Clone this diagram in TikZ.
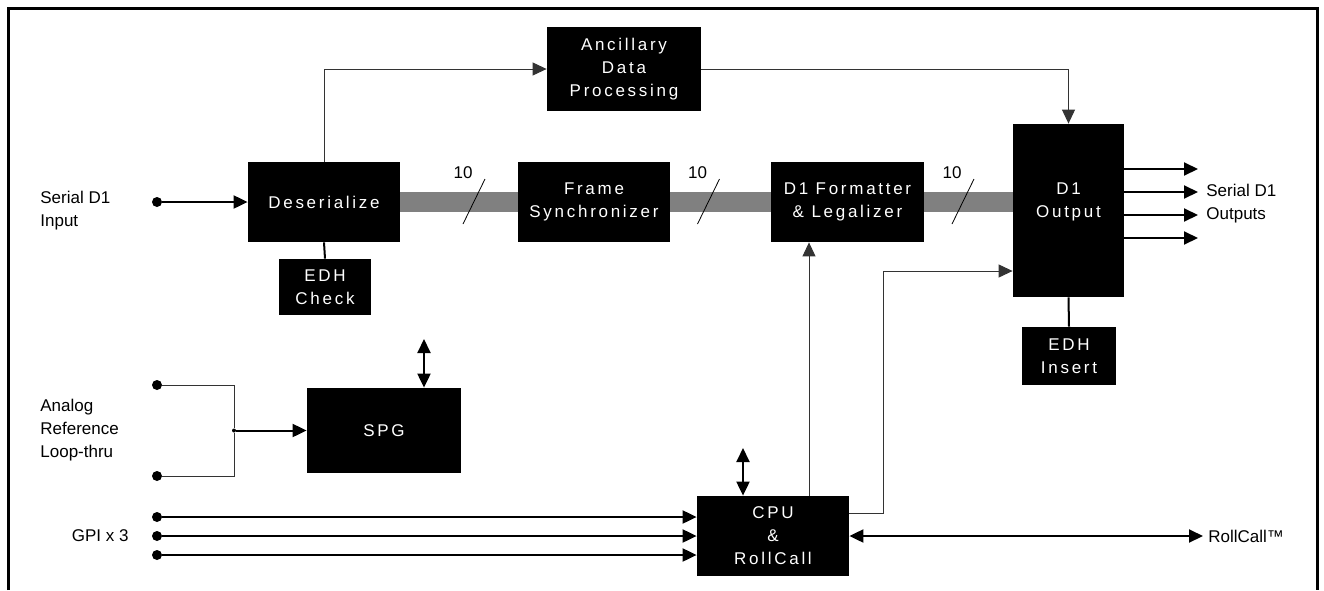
\documentclass[tikz,border=0pt]{standalone}
\usepackage{fontspec}
\setmainfont{Liberation Sans}
\newfontfamily\boxfont[LetterSpace=16]{Liberation Sans}
\usetikzlibrary{arrows.meta,calc}
\tikzset{
  >={Triangle[length=7pt,width=6.5pt]},
  blk/.style={fill=black,text=white,align=center,inner sep=0pt,
    font=\boxfont\fontsize{8.5}{11.5}\selectfont},
  lbl/.style={align=left,inner sep=0pt,font=\fontsize{8.5}{11.5}\selectfont},
  bus/.style={line width=10pt,draw=black!50},
  sig/.style={line width=1pt},
  fine/.style={line width=0.5pt,draw=black!80},
  dot/.style={circle,fill,inner sep=0pt,minimum size=5pt},
}
\begin{document}
\begin{tikzpicture}[x=0.5pt,y=-0.5pt]
  \useasboundingbox (0,0) rectangle (1324,590);
  \draw [line width=1.5pt] (8,590) -- (8,8) -- (1317,8) -- (1317,590);
  % blocks
  \node [blk,minimum width=76pt,minimum height=40pt] (deser) at (324,202) {Deserialize};
  \node [blk,minimum width=46pt,minimum height=28pt] (edhchk) at (325,287) {EDH\\Check};
  \node [blk,minimum width=77pt,minimum height=42pt] (ancil) at (624,69) {Ancillary\\Data\\Processing};
  \node [blk,minimum width=76pt,minimum height=40pt] (frame) at (594,202) {Frame\\Synchronizer};
  \node [blk,minimum width=76.5pt,minimum height=40pt] (fmt) at (847.5,202) {D1 Formatter\\\& Legalizer};
  \node [blk,minimum width=55.5pt,minimum height=86.5pt] (d1out) at (1068.5,210.5) {};
  \node [blk,fill=none] (d1txt) at (1068.5,201.5) {D1\\Output};
  \node [blk,minimum width=47pt,minimum height=29pt] (edhins) at (1069,356) {EDH\\Insert};
  \node [blk,minimum width=77pt,minimum height=42.5pt] (spg) at (384,430.5) {SPG};
  \node [blk,minimum width=76pt,minimum height=40pt] (cpu) at (773,536) {CPU\\\&\\RollCall};
  % 10 bit bus
  \draw [bus] (deser.east) -- (frame.west);
  \draw [bus] (frame.east) -- (fmt.west);
  \draw [bus] (fmt.east) -- (fmt.east -| d1out.west);
  \foreach \x in {474,708.5,963}
    \draw [shift={(\x,201.5)}] (-11,22.5) -- (11,-22.5) (-1,-28.5) node [lbl,anchor=east] {10};
  % serial input
  \node [dot] (in) at (157,202) {};
  \node [lbl,anchor=west] at (40,210.5) {Serial D1\\Input};
  \draw [sig,->] (in) -- (deser.west);
  \draw [sig] (deser.south) -- (edhchk.north);
  \draw [fine,->] (deser.north) |- (ancil.west);
  \draw [fine,->] (ancil.east) -| (d1out.north);
  \draw [sig] (d1out.south) -- (edhins.north);
  % outputs
  \foreach \y [count=\i] in {169,192,215,238} {
    \coordinate (out\i) at (1198,\y);
    \draw [sig,->] (d1out.east |- out\i) -- (out\i);
  }
  \node [lbl,anchor=west] at (1206,204) {Serial D1\\Outputs};
  % analog reference
  \node [dot] (ref1) at (157,385) {};
  \node [dot] (ref2) at (157,476) {};
  \node [dot,minimum size=2pt] (jn) at (234,430.5) {};
  \node [lbl,anchor=west] at (40,430) {Analog\\Reference\\Loop-thru};
  \draw [fine] (ref1) -| (jn) |- (ref2);
  \draw [sig,->] (jn) -- (spg.west);
  \coordinate (spgio) at (424,339);
  \draw [sig,<->] (spgio) -- (spgio |- spg.north);
  % GPI
  \foreach \y [count=\i] in {517,536,555} {
    \node [dot] (gpi\i) at (157,\y) {};
    \draw [sig,->] (gpi\i) -- (cpu.west |- gpi\i);
  }
  \node [lbl,anchor=east] at (129,536) {GPI x 3};
  % CPU
  \coordinate (cpuio) at (743,448);
  \draw [sig,<->] (cpuio) -- (cpuio |- cpu.north);
  \coordinate (cpuup) at ($(cpu.north)+(36,0)$);
  \draw [fine,->] (cpuup) -- (cpuup |- fmt.south);
  \draw [fine,->] ($(cpu.east)+(0,-23)$) -- ++(34,0) |- ($(d1out.west)+(0,60.5)$);
  \coordinate (rc) at (1203,536);
  \draw [sig,<->] (cpu.east) -- (rc);
  \node [lbl,anchor=west] at (1208,536) {RollCall™};
\end{tikzpicture}
\end{document}
